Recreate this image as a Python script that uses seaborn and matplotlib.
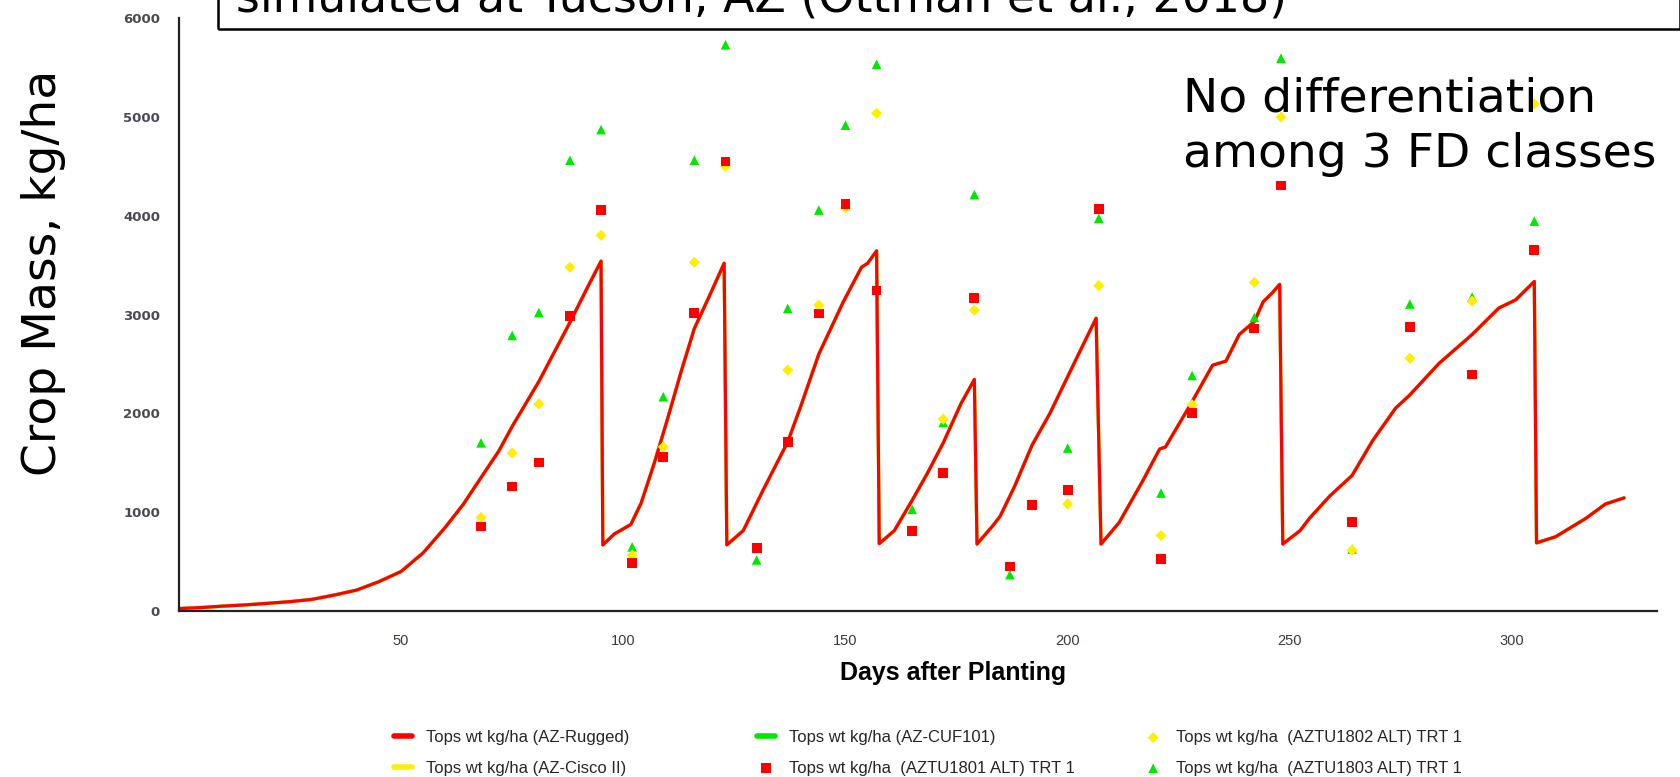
import matplotlib
matplotlib.use("Agg")
import matplotlib.pyplot as plt
import matplotlib.patches as patches
import seaborn as sns

# -----------------------------
# Data
# -----------------------------
# simulated tops weight - the three cultivars overlap exactly
sim_days = [0, 5, 10, 15, 20, 25, 30, 35, 40, 45, 50, 55, 60, 64, 68, 72, 75, 81, 88, 92, 95, 95.4,
            98, 101.7, 104, 107, 110, 113, 116, 119.5, 122.7, 123.3,
            127, 131.5, 137, 140, 144, 149.5, 153.6, 155, 157, 157.6,
            161, 165, 168.5, 172, 176, 179, 179.6,
            183, 184.8, 188, 192, 196, 199.6, 203.4, 206.4, 207.5,
            211.6, 216.8, 220.7, 222, 227.7, 232.6, 235.6, 238.6, 242, 244, 246, 247.7, 248.4,
            252.3, 254.4, 259, 264, 268.6, 273.8, 276.8, 283.6, 291, 297, 300.8, 305, 305.5,
            309.8, 316.6, 321, 325.2]
sim_mass = [25, 35, 50, 62, 78, 95, 118, 162, 212, 297, 400, 590, 850, 1080, 1351, 1620, 1868, 2322, 2921, 3280, 3541, 669,
            780, 876, 1090, 1500, 1950, 2420, 2860, 3200, 3520, 669,
            814, 1227, 1711, 2080, 2600, 3128, 3479, 3520, 3645, 682,
            814, 1120, 1400, 1702, 2100, 2343, 678,
            855, 959, 1256, 1680, 2000, 2335, 2688, 2963, 678,
            897, 1310, 1640, 1660, 2095, 2488, 2529, 2798, 2930, 3130, 3219, 3306, 678,
            814, 938, 1165, 1372, 1723, 2054, 2178, 2508, 2798, 3066, 3149, 3335, 690,
            752, 938, 1083, 1145]

# observed
days_1801 = [68, 75, 81, 88, 95, 102, 109, 116, 123, 130, 137, 144, 150, 157, 165, 172, 179, 187, 192,
             200, 207, 221, 228, 242, 248, 264, 277, 291, 305]
mass_1801 = [855, 1260, 1504, 2983, 4058, 483, 1558, 3017, 4550, 636, 1711, 3012, 4120, 3244, 806, 1401, 3169, 450, 1070,
             1227, 4070, 525, 2004, 2860, 4306, 897, 2872, 2393, 3653]

days_1802 = [68, 75, 81, 88, 95, 102, 109, 116, 123, 137, 144, 150, 157, 172, 179,
             200, 207, 221, 228, 242, 248, 264, 277, 291, 305]
mass_1802 = [946, 1599, 2095, 3479, 3802, 566, 1661, 3529, 4500, 2438, 3095, 4080, 5037, 1942, 3045,
             1083, 3293, 764, 2087, 3326, 5000, 616, 2558, 3136, 5132]

days_1803 = [68, 75, 81, 88, 95, 102, 109, 116, 123, 130, 137, 144, 150, 157, 165, 172, 179, 187,
             200, 207, 221, 228, 242, 248, 264, 277, 291, 305]
mass_1803 = [1702, 2789, 3021, 4562, 4872, 649, 2169, 4562, 5731, 517, 3062, 4058, 4917, 5533, 1029, 1909, 4215, 368,
             1649, 3975, 1194, 2384, 2971, 5595, 628, 3107, 3178, 3946]

RED = "#ff0000"
GREEN = "#00e800"
YELLOW = "#ffee00"

# -----------------------------
# Plot
# -----------------------------
sns.set_style("white")

fig = plt.figure(figsize=(16.81, 7.77), dpi=100)
ax = fig.add_axes([0.1064, 0.2136, 0.8793, 0.7630])

sns.lineplot(x=sim_days, y=sim_mass, ax=ax, color=GREEN, lw=2.3, estimator=None, sort=False,
             label="Tops wt kg/ha (AZ-CUF101)")
sns.lineplot(x=sim_days, y=sim_mass, ax=ax, color=YELLOW, lw=2.3, estimator=None, sort=False,
             label="Tops wt kg/ha (AZ-Cisco II)")
sns.lineplot(x=sim_days, y=sim_mass, ax=ax, color=RED, lw=2.3, estimator=None, sort=False,
             label="Tops wt kg/ha (AZ-Rugged)")

sns.scatterplot(x=days_1803, y=mass_1803, ax=ax, marker="^", color=GREEN, s=48, edgecolor="none",
                label="Tops wt kg/ha  (AZTU1803 ALT) TRT 1", zorder=3)
sns.scatterplot(x=days_1802, y=mass_1802, ax=ax, marker="D", color=YELLOW, s=32, edgecolor="none",
                label="Tops wt kg/ha  (AZTU1802 ALT) TRT 1", zorder=4)
sns.scatterplot(x=days_1801, y=mass_1801, ax=ax, marker="s", color=RED, s=50, edgecolor="none",
                label="Tops wt kg/ha  (AZTU1801 ALT) TRT 1", zorder=5)

ax.set_xlim(0, 332.6)
ax.set_ylim(0, 6000)
ax.set_xticks([50, 100, 150, 200, 250, 300])
ax.set_yticks([0, 1000, 2000, 3000, 4000, 5000, 6000])

for side in ["top", "right"]:
    ax.spines[side].set_visible(False)
for side in ["left", "bottom"]:
    ax.spines[side].set_color("#222222")
    ax.spines[side].set_linewidth(1.6)

ax.tick_params(axis="both", direction="inout", length=11, width=1.2, color="#333333")
ax.tick_params(axis="x", pad=11)
ax.tick_params(axis="y", pad=8)
for lab in ax.get_xticklabels():
    lab.set_fontfamily(["Liberation Sans", "DejaVu Sans"])
    lab.set_fontsize(10.5)
    lab.set_color("#3a3a48")
for lab in ax.get_yticklabels():
    lab.set_fontfamily("DejaVu Sans")
    lab.set_fontweight("bold")
    lab.set_fontsize(9.5)
    lab.set_color("#4a4a55")

ax.set_xlabel("Days after Planting", fontsize=18, fontweight="bold", color="black",
              family=["Liberation Sans", "DejaVu Sans"], va="center")
ax.xaxis.set_label_coords(0.5238, -0.1046)
ax.set_ylabel("Crop Mass, kg/ha", fontsize=34, family="DejaVu Sans", va="center", color="black")
ax.yaxis.set_label_coords(-0.0919, 0.570)

# legend: three columns on a fixed grid
handles, labels = ax.get_legend_handles_labels()
ax.get_legend().remove()
lookup = dict(zip(labels, handles))
columns = [
    ["Tops wt kg/ha (AZ-Rugged)", "Tops wt kg/ha (AZ-Cisco II)"],
    ["Tops wt kg/ha (AZ-CUF101)", "Tops wt kg/ha  (AZTU1801 ALT) TRT 1"],
    ["Tops wt kg/ha  (AZTU1802 ALT) TRT 1", "Tops wt kg/ha  (AZTU1803 ALT) TRT 1"],
]
col_x = [394 / 1681, 757 / 1681, 1144 / 1681]
for cx, col in zip(col_x, columns):
    leg = fig.legend([lookup[c] for c in col], col, loc="upper left", bbox_to_anchor=(cx, 0.0605),
                     frameon=False, borderpad=0, borderaxespad=0, handlelength=1.1, handletextpad=0.8,
                     labelspacing=0.94, prop={"family": ["Liberation Sans", "DejaVu Sans"], "size": 12})
    for h in leg.legend_handles:
        if h.__class__.__name__ == "Line2D":
            h.set_linewidth(4)

# title box running off the top edge
box = patches.Rectangle((0.1297, 0.9627), 0.8695, 0.1, transform=fig.transFigure,
                        fill=False, edgecolor="black", linewidth=1.8, clip_on=False)
fig.patches.append(box)
fig.text(0.1404, 0.9846, "simulated at Tucson, AZ (Ottman et al., 2018)", fontsize=33,
         family="DejaVu Sans", va="baseline", ha="left", color="black")

# annotation
fig.text(0.7037, 1 - 112 / 777, "No differentiation", fontsize=34, family="DejaVu Sans",
         va="baseline", ha="left", color="black")
fig.text(0.7037, 1 - 167 / 777, "among 3 FD classes", fontsize=34, family="DejaVu Sans",
         va="baseline", ha="left", color="black")

fig.savefig("out.png", dpi=100)
